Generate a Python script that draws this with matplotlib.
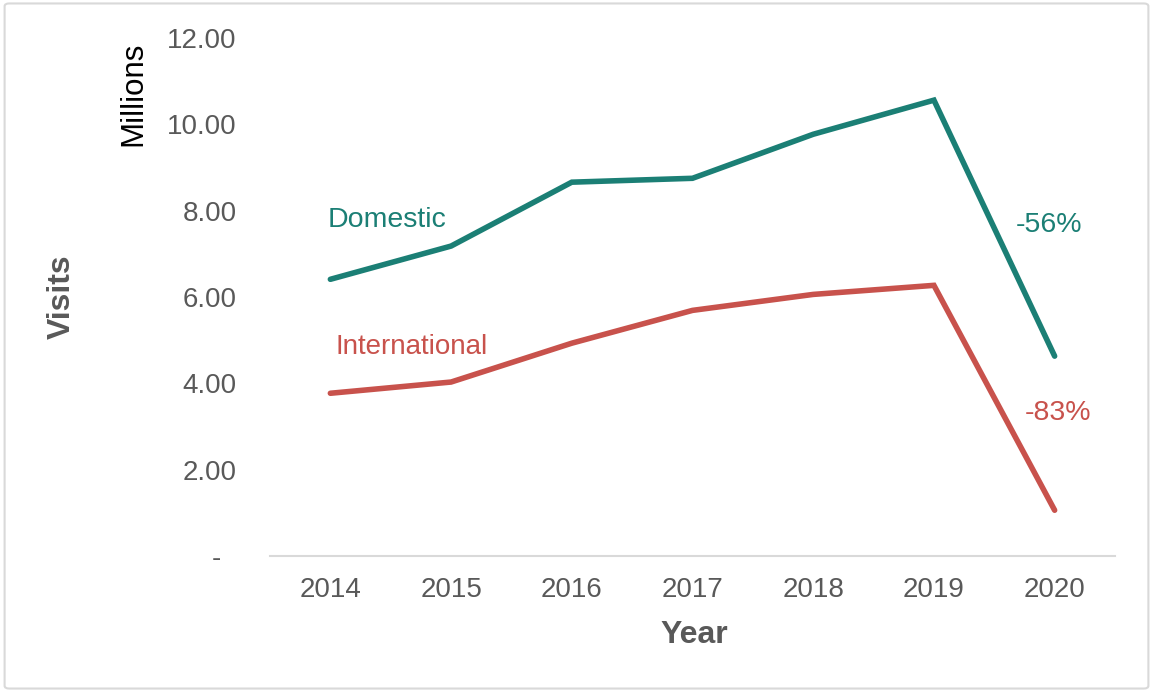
import matplotlib.pyplot as plt
from matplotlib.patches import FancyBboxPatch

plt.rcParams['font.family'] = ['Liberation Sans', 'DejaVu Sans']

# data (millions of visits)
years = ['2014', '2015', '2016', '2017', '2018', '2019', '2020']
domestic = [6.41, 7.18, 8.66, 8.75, 9.77, 10.56, 4.63]
international = [3.77, 4.03, 4.93, 5.69, 6.06, 6.27, 1.06]
yticks = [0, 2, 4, 6, 8, 10, 12]
ytick_labels = ['-  ', '2.00', '4.00', '6.00', '8.00', '10.00', '12.00']

teal = '#1b7f75'
red = '#c8524c'
grey = '#595959'

fig = plt.figure(figsize=(11.53, 6.92), dpi=100)
# light frame around the chart
fig.patches.append(FancyBboxPatch((0.004, 0.005), 0.992, 0.99, boxstyle='round,pad=0,rounding_size=0.004',
                                  transform=fig.transFigure, fill=False, edgecolor='#d9d9d9', linewidth=1.5))

ax = fig.add_axes([270/1153, 136/692, 845/1153, 518/692])
x = list(range(len(years)))
ax.plot(x, domestic, color=teal, linewidth=4, solid_joinstyle='miter', solid_capstyle='round')
ax.plot(x, international, color=red, linewidth=4, solid_joinstyle='miter', solid_capstyle='round')

ax.set_xlim(-0.5, 6.5)
ax.set_ylim(0, 12)
ax.set_xticks(x)
ax.set_xticklabels(years)
ax.set_yticks(yticks)
ax.set_yticklabels(ytick_labels)
ax.tick_params(length=0, labelsize=20, colors=grey)
ax.tick_params(axis='x', pad=15)
ax.tick_params(axis='y', pad=24)
for s in ['top', 'right', 'left']:
    ax.spines[s].set_visible(False)
ax.spines['bottom'].set_color('#d9d9d9')
ax.spines['bottom'].set_linewidth(1.5)

# line labels
ax.text(-0.025, 7.78, 'Domestic', color=teal, fontsize=20.5, va='center', ha='left')
ax.text(0.04, 4.84, 'International', color=red, fontsize=20, va='center', ha='left')
ax.text(5.95, 7.67, '-56%', color=teal, fontsize=20.5, va='center', ha='center')
ax.text(6.03, 3.31, '-83%', color=red, fontsize=20.5, va='center', ha='center')

fig.text(133/1153, 1 - 94/692, 'Millions', rotation=90, fontsize=22.5, color='black', ha='center', va='center')
fig.text(62/1153, 1 - 297/692, 'Visits', rotation=90, fontsize=23, fontweight='bold', color=grey, ha='center', va='center')
fig.text(694/1153, 1 - 635/692, 'Year', fontsize=23, fontweight='bold', color=grey, ha='center', va='center')

fig.savefig('out.png', dpi=100)
